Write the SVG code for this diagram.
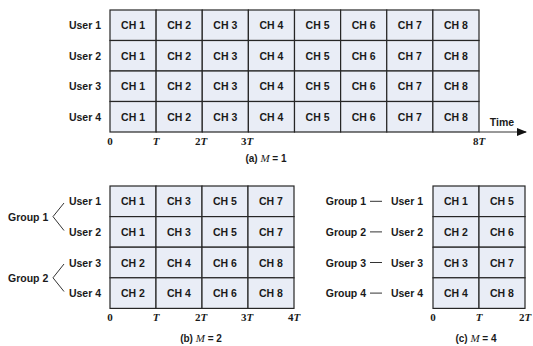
<svg xmlns="http://www.w3.org/2000/svg" width="533" height="346" viewBox="0 0 533 346">
  <style>
    .cell { fill: #e9edf6; stroke: #262626; stroke-width: 1.2; }
    .ch { font-family: "Liberation Sans", Arial, sans-serif; font-weight: bold; font-size: 10.5px; fill: #1a1a1a; text-anchor: middle; dominant-baseline: central; }
    .lbl { font-family: "Liberation Sans", Arial, sans-serif; font-weight: bold; font-size: 10.5px; fill: #1a1a1a; dominant-baseline: central; }
    .end { text-anchor: end; }
    .mid { text-anchor: middle; }
    .ax { font-family: "Liberation Serif", "Times New Roman", serif; font-weight: bold; font-size: 11px; fill: #1a1a1a; text-anchor: middle; }
    .it { font-style: italic; }
    .cap { font-family: "Liberation Sans", Arial, sans-serif; font-weight: bold; font-size: 10px; fill: #1a1a1a; text-anchor: middle; }
    .m { font-family: "Liberation Serif", "Times New Roman", serif; font-style: italic; font-weight: normal; font-size: 11px; }
    .conn { stroke: #333; stroke-width: 1; fill: none; }
  </style>
  <defs>
    <marker id="arrow" markerWidth="10" markerHeight="8" refX="9" refY="4" orient="auto" markerUnits="userSpaceOnUse">
      <path d="M0,0 L10,4 L0,8 Z" fill="#111"/>
    </marker>
  </defs>

  <!-- (a) M = 1 : 4 users x 8 channel slots -->
  <g id="grid-a">
    <g id="a-row1">
      <rect class="cell" x="110" y="10" width="46.125" height="30.5"/><text class="ch" x="133.06" y="25.25">CH 1</text>
      <rect class="cell" x="156.125" y="10" width="46.125" height="30.5"/><text class="ch" x="179.19" y="25.25">CH 2</text>
      <rect class="cell" x="202.25" y="10" width="46.125" height="30.5"/><text class="ch" x="225.31" y="25.25">CH 3</text>
      <rect class="cell" x="248.375" y="10" width="46.125" height="30.5"/><text class="ch" x="271.44" y="25.25">CH 4</text>
      <rect class="cell" x="294.5" y="10" width="46.125" height="30.5"/><text class="ch" x="317.56" y="25.25">CH 5</text>
      <rect class="cell" x="340.625" y="10" width="46.125" height="30.5"/><text class="ch" x="363.69" y="25.25">CH 6</text>
      <rect class="cell" x="386.75" y="10" width="46.125" height="30.5"/><text class="ch" x="409.81" y="25.25">CH 7</text>
      <rect class="cell" x="432.875" y="10" width="46.125" height="30.5"/><text class="ch" x="455.94" y="25.25">CH 8</text>
    </g>
    <g id="a-row2">
      <rect class="cell" x="110" y="40.5" width="46.125" height="30.5"/><text class="ch" x="133.06" y="55.75">CH 1</text>
      <rect class="cell" x="156.125" y="40.5" width="46.125" height="30.5"/><text class="ch" x="179.19" y="55.75">CH 2</text>
      <rect class="cell" x="202.25" y="40.5" width="46.125" height="30.5"/><text class="ch" x="225.31" y="55.75">CH 3</text>
      <rect class="cell" x="248.375" y="40.5" width="46.125" height="30.5"/><text class="ch" x="271.44" y="55.75">CH 4</text>
      <rect class="cell" x="294.5" y="40.5" width="46.125" height="30.5"/><text class="ch" x="317.56" y="55.75">CH 5</text>
      <rect class="cell" x="340.625" y="40.5" width="46.125" height="30.5"/><text class="ch" x="363.69" y="55.75">CH 6</text>
      <rect class="cell" x="386.75" y="40.5" width="46.125" height="30.5"/><text class="ch" x="409.81" y="55.75">CH 7</text>
      <rect class="cell" x="432.875" y="40.5" width="46.125" height="30.5"/><text class="ch" x="455.94" y="55.75">CH 8</text>
    </g>
    <g id="a-row3">
      <rect class="cell" x="110" y="71" width="46.125" height="30.5"/><text class="ch" x="133.06" y="86.25">CH 1</text>
      <rect class="cell" x="156.125" y="71" width="46.125" height="30.5"/><text class="ch" x="179.19" y="86.25">CH 2</text>
      <rect class="cell" x="202.25" y="71" width="46.125" height="30.5"/><text class="ch" x="225.31" y="86.25">CH 3</text>
      <rect class="cell" x="248.375" y="71" width="46.125" height="30.5"/><text class="ch" x="271.44" y="86.25">CH 4</text>
      <rect class="cell" x="294.5" y="71" width="46.125" height="30.5"/><text class="ch" x="317.56" y="86.25">CH 5</text>
      <rect class="cell" x="340.625" y="71" width="46.125" height="30.5"/><text class="ch" x="363.69" y="86.25">CH 6</text>
      <rect class="cell" x="386.75" y="71" width="46.125" height="30.5"/><text class="ch" x="409.81" y="86.25">CH 7</text>
      <rect class="cell" x="432.875" y="71" width="46.125" height="30.5"/><text class="ch" x="455.94" y="86.25">CH 8</text>
    </g>
    <g id="a-row4">
      <rect class="cell" x="110" y="101.5" width="46.125" height="30.5"/><text class="ch" x="133.06" y="116.75">CH 1</text>
      <rect class="cell" x="156.125" y="101.5" width="46.125" height="30.5"/><text class="ch" x="179.19" y="116.75">CH 2</text>
      <rect class="cell" x="202.25" y="101.5" width="46.125" height="30.5"/><text class="ch" x="225.31" y="116.75">CH 3</text>
      <rect class="cell" x="248.375" y="101.5" width="46.125" height="30.5"/><text class="ch" x="271.44" y="116.75">CH 4</text>
      <rect class="cell" x="294.5" y="101.5" width="46.125" height="30.5"/><text class="ch" x="317.56" y="116.75">CH 5</text>
      <rect class="cell" x="340.625" y="101.5" width="46.125" height="30.5"/><text class="ch" x="363.69" y="116.75">CH 6</text>
      <rect class="cell" x="386.75" y="101.5" width="46.125" height="30.5"/><text class="ch" x="409.81" y="116.75">CH 7</text>
      <rect class="cell" x="432.875" y="101.5" width="46.125" height="30.5"/><text class="ch" x="455.94" y="116.75">CH 8</text>
    </g>
  </g>
  <g id="users-a">
    <text class="lbl end" x="101" y="25.25">User 1</text>
    <text class="lbl end" x="101" y="55.75">User 2</text>
    <text class="lbl end" x="101" y="86.25">User 3</text>
    <text class="lbl end" x="101" y="116.75">User 4</text>
  </g>
  <g id="time-axis-a">
    <text class="lbl mid" x="502" y="121.5">Time</text>
    <text class="ax" x="110" y="145">0</text>
    <text class="ax it" x="156" y="145">T</text>
    <text class="ax" x="201" y="145">2<tspan class="it">T</tspan></text>
    <text class="ax" x="247" y="145">3<tspan class="it">T</tspan></text>
    <text class="ax" x="479" y="145">8<tspan class="it">T</tspan></text>
  </g>
  <text id="caption-a" class="cap" x="266" y="162">(a) <tspan class="m">M</tspan> = 1</text>

  <!-- (b) M = 2 : two groups of two users -->
  <g id="grid-b">
    <g id="b-row1">
      <rect class="cell" x="110" y="186" width="46" height="30.6"/><text class="ch" x="133" y="201.3">CH 1</text>
      <rect class="cell" x="156" y="186" width="46" height="30.6"/><text class="ch" x="179" y="201.3">CH 3</text>
      <rect class="cell" x="202" y="186" width="46" height="30.6"/><text class="ch" x="225" y="201.3">CH 5</text>
      <rect class="cell" x="248" y="186" width="46" height="30.6"/><text class="ch" x="271" y="201.3">CH 7</text>
    </g>
    <g id="b-row2">
      <rect class="cell" x="110" y="216.6" width="46" height="30.6"/><text class="ch" x="133" y="231.9">CH 1</text>
      <rect class="cell" x="156" y="216.6" width="46" height="30.6"/><text class="ch" x="179" y="231.9">CH 3</text>
      <rect class="cell" x="202" y="216.6" width="46" height="30.6"/><text class="ch" x="225" y="231.9">CH 5</text>
      <rect class="cell" x="248" y="216.6" width="46" height="30.6"/><text class="ch" x="271" y="231.9">CH 7</text>
    </g>
    <g id="b-row3">
      <rect class="cell" x="110" y="247.2" width="46" height="30.6"/><text class="ch" x="133" y="262.5">CH 2</text>
      <rect class="cell" x="156" y="247.2" width="46" height="30.6"/><text class="ch" x="179" y="262.5">CH 4</text>
      <rect class="cell" x="202" y="247.2" width="46" height="30.6"/><text class="ch" x="225" y="262.5">CH 6</text>
      <rect class="cell" x="248" y="247.2" width="46" height="30.6"/><text class="ch" x="271" y="262.5">CH 8</text>
    </g>
    <g id="b-row4">
      <rect class="cell" x="110" y="277.8" width="46" height="30.6"/><text class="ch" x="133" y="293.1">CH 2</text>
      <rect class="cell" x="156" y="277.8" width="46" height="30.6"/><text class="ch" x="179" y="293.1">CH 4</text>
      <rect class="cell" x="202" y="277.8" width="46" height="30.6"/><text class="ch" x="225" y="293.1">CH 6</text>
      <rect class="cell" x="248" y="277.8" width="46" height="30.6"/><text class="ch" x="271" y="293.1">CH 8</text>
    </g>
  </g>
  <g id="users-b">
    <text class="lbl end" x="101" y="201.3">User 1</text>
    <text class="lbl end" x="101" y="231.9">User 2</text>
    <text class="lbl end" x="101" y="262.5">User 3</text>
    <text class="lbl end" x="101" y="293.1">User 4</text>
  </g>
  <g id="group-b1"><text class="lbl" x="8" y="216.6">Group 1</text></g>
  <g id="group-b2"><text class="lbl" x="8" y="277.8">Group 2</text></g>
  <g id="time-axis-b">
    <text class="ax" x="110" y="320.5">0</text>
    <text class="ax it" x="156" y="320.5">T</text>
    <text class="ax" x="201" y="320.5">2<tspan class="it">T</tspan></text>
    <text class="ax" x="247" y="320.5">3<tspan class="it">T</tspan></text>
    <text class="ax" x="294" y="320.5">4<tspan class="it">T</tspan></text>
  </g>
  <text id="caption-b" class="cap" x="201" y="342">(b) <tspan class="m">M</tspan> = 2</text>

  <!-- (c) M = 4 : one user per group -->
  <g id="grid-c">
    <g id="c-row1">
      <rect class="cell" x="433" y="186" width="46" height="30.6"/><text class="ch" x="456" y="201.3">CH 1</text>
      <rect class="cell" x="479" y="186" width="46" height="30.6"/><text class="ch" x="502" y="201.3">CH 5</text>
    </g>
    <g id="c-row2">
      <rect class="cell" x="433" y="216.6" width="46" height="30.6"/><text class="ch" x="456" y="231.9">CH 2</text>
      <rect class="cell" x="479" y="216.6" width="46" height="30.6"/><text class="ch" x="502" y="231.9">CH 6</text>
    </g>
    <g id="c-row3">
      <rect class="cell" x="433" y="247.2" width="46" height="30.6"/><text class="ch" x="456" y="262.5">CH 3</text>
      <rect class="cell" x="479" y="247.2" width="46" height="30.6"/><text class="ch" x="502" y="262.5">CH 7</text>
    </g>
    <g id="c-row4">
      <rect class="cell" x="433" y="277.8" width="46" height="30.6"/><text class="ch" x="456" y="293.1">CH 4</text>
      <rect class="cell" x="479" y="277.8" width="46" height="30.6"/><text class="ch" x="502" y="293.1">CH 8</text>
    </g>
  </g>
  <g id="users-c">
    <text class="lbl end" x="423" y="201.3">User 1</text>
    <text class="lbl end" x="423" y="231.9">User 2</text>
    <text class="lbl end" x="423" y="262.5">User 3</text>
    <text class="lbl end" x="423" y="293.1">User 4</text>
  </g>
  <g id="group-c1"><text class="lbl end" x="366" y="201.3">Group 1</text></g>
  <g id="group-c2"><text class="lbl end" x="366" y="231.9">Group 2</text></g>
  <g id="group-c3"><text class="lbl end" x="366" y="262.5">Group 3</text></g>
  <g id="group-c4"><text class="lbl end" x="366" y="293.1">Group 4</text></g>
  <g id="time-axis-c">
    <text class="ax" x="433" y="320.5">0</text>
    <text class="ax it" x="479" y="320.5">T</text>
    <text class="ax" x="525" y="320.5">2<tspan class="it">T</tspan></text>
  </g>
  <text id="caption-c" class="cap" x="476" y="342">(c) <tspan class="m">M</tspan> = 4</text>

  <!-- connectors: time arrow, group braces, group-user links -->
  <g id="connectors">
    <line class="conn" x1="479" y1="132" x2="526" y2="132" stroke-width="1.2" marker-end="url(#arrow)"/>
    <polyline class="conn" points="64,203 53,216.6 64,230.5"/>
    <polyline class="conn" points="64,264 53,277.8 64,291.5"/>
    <line class="conn" x1="370" y1="201.3" x2="382" y2="201.3"/>
    <line class="conn" x1="370" y1="231.9" x2="382" y2="231.9"/>
    <line class="conn" x1="370" y1="262.5" x2="382" y2="262.5"/>
    <line class="conn" x1="370" y1="293.1" x2="382" y2="293.1"/>
  </g>
</svg>
